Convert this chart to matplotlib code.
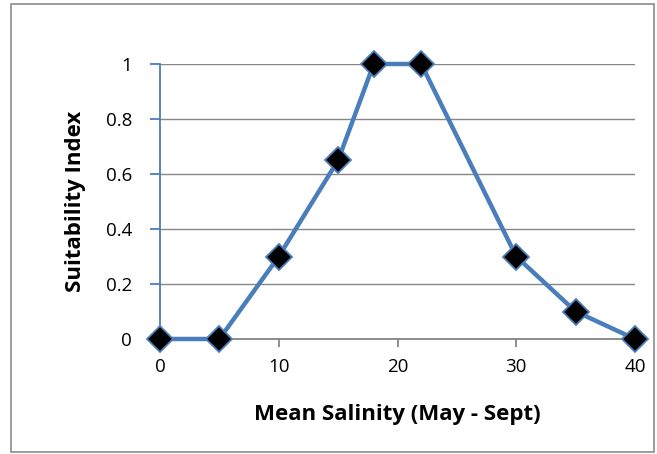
import matplotlib.pyplot as plt
from matplotlib.patches import Rectangle

# Salinity suitability curve
salinity = [0, 5, 10, 15, 18, 22, 30, 35, 40]
suitability = [0, 0, 0.3, 0.65, 1, 1, 0.3, 0.1, 0]
x_ticks = [0, 10, 20, 30, 40]
y_ticks = [0, 0.2, 0.4, 0.6, 0.8, 1]
y_tick_labels = ['0', '0.2', '0.4', '0.6', '0.8', '1']

plt.rcParams['font.family'] = ['Open Sans', 'DejaVu Sans']

fig = plt.figure(figsize=(6.57, 4.54), dpi=100)
fig.patch.set_facecolor('white')
fig.add_artist(Rectangle((11 / 657, 2 / 454), 643 / 657, 448 / 454,
                         transform=fig.transFigure, fill=False,
                         edgecolor='#8c8c8c', linewidth=1.2))

ax = fig.add_axes([160 / 657, (454 - 339) / 454, 475 / 657, 275 / 454])
ax.set_xlim(0, 40)
ax.set_ylim(0, 1)

ax.plot(salinity, suitability, color='#4a7ebb', linewidth=3.2, marker='D',
        markersize=13, markerfacecolor='black', markeredgecolor='#4a7ebb',
        markeredgewidth=1.3, clip_on=False, zorder=5)

ax.set_xticks(x_ticks)
ax.set_yticks(y_ticks)
ax.set_yticklabels(y_tick_labels)
ax.yaxis.grid(True, color='#868686', linewidth=1)
ax.set_axisbelow(True)

for side in ['top', 'right']:
    ax.spines[side].set_visible(False)
ax.spines['left'].set_color('#4a7ebb')
ax.spines['left'].set_linewidth(1.3)
ax.spines['bottom'].set_color('#868686')
ax.spines['bottom'].set_linewidth(1.3)

ax.tick_params(axis='y', direction='out', length=7, width=1.3, color='#4a7ebb',
               labelsize=13.5, pad=13)
ax.tick_params(axis='x', direction='out', length=6, width=1.3, color='#868686',
               labelsize=13.5, pad=8)

ax.set_xlabel('Mean Salinity (May - Sept)', fontsize=16, fontweight='bold', labelpad=20)
ax.set_ylabel('Suitability Index', fontsize=16, fontweight='bold', labelpad=14)

plt.savefig('out.png', dpi=100, facecolor='white')
